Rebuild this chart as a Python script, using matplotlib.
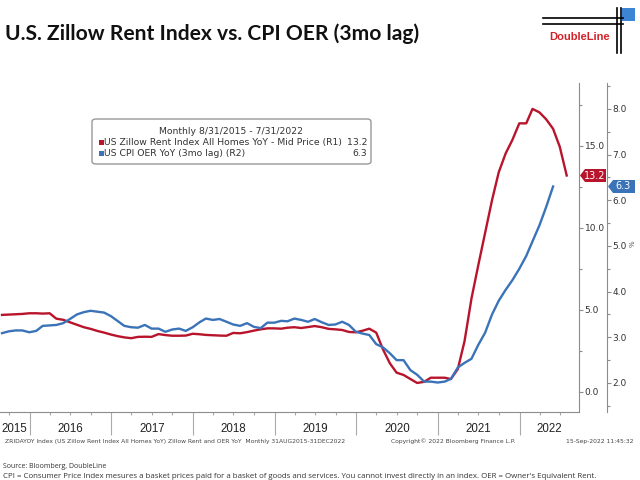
import matplotlib
matplotlib.use('Agg')
import matplotlib.pyplot as plt
import matplotlib.dates as mdates
import matplotlib.ticker as mticker
from matplotlib.patches import FancyBboxPatch, Polygon, Rectangle
from matplotlib.lines import Line2D
import pandas as pd

# Zillow rent index YoY (R1), monthly from 8/31/2015
zillow_yoy = [4.70, 4.72, 4.74, 4.76, 4.80, 4.80, 4.78, 4.80,
              4.47, 4.40, 4.25, 4.10, 3.95, 3.85, 3.72, 3.62,
              3.50, 3.40, 3.33, 3.28, 3.36, 3.37, 3.36, 3.53,
              3.47, 3.43, 3.43, 3.44, 3.55, 3.52, 3.48, 3.46,
              3.44, 3.43, 3.60, 3.58, 3.65, 3.74, 3.82, 3.88,
              3.88, 3.86, 3.92, 3.95, 3.90, 3.96, 4.02, 3.95,
              3.85, 3.82, 3.78, 3.66, 3.64, 3.74, 3.86, 3.62,
              2.60, 1.75, 1.18, 1.04, 0.79, 0.55, 0.62, 0.87,
              0.87, 0.87, 0.79, 1.40, 3.10, 5.70, 7.70, 9.70,
              11.70, 13.40, 14.55, 15.37, 16.38, 16.38, 17.26, 17.05,
              16.63, 16.05, 14.95, 13.2]
# CPI OER YoY with 3mo lag (R2)
oer_yoy = [3.09, 3.13, 3.15, 3.15, 3.11, 3.14, 3.25, 3.26,
           3.27, 3.31, 3.40, 3.50, 3.55, 3.58, 3.56, 3.54,
           3.46, 3.35, 3.25, 3.22, 3.21, 3.27, 3.19, 3.19,
           3.12, 3.17, 3.19, 3.14, 3.22, 3.33, 3.41, 3.38,
           3.40, 3.34, 3.28, 3.25, 3.31, 3.23, 3.20, 3.32,
           3.32, 3.36, 3.35, 3.41, 3.38, 3.34, 3.40, 3.33,
           3.27, 3.28, 3.34, 3.27, 3.12, 3.08, 3.05, 2.85,
           2.78, 2.65, 2.50, 2.50, 2.28, 2.18, 2.03, 2.03,
           2.01, 2.03, 2.09, 2.34, 2.44, 2.53, 2.83, 3.10,
           3.50, 3.80, 4.04, 4.25, 4.50, 4.78, 5.10, 5.45,
           5.85, 6.30]
dates = pd.date_range('2015-08-31', periods=len(zillow_yoy), freq=pd.offsets.MonthEnd())
oer_dates = dates[:len(oer_yoy)]
years = list(range(2015, 2023))

RED = '#B8142B'
BLUE = '#3B73B9'
GRAY = '#8C8C8C'
W, H = 640, 480


def fx(px):
    return px / W


def fy(py):
    return 1 - py / H


fig = plt.figure(figsize=(6.4, 4.8), dpi=100)
fig.patch.set_facecolor('white')

ax1 = fig.add_axes([0, fy(412), fx(579), (412 - 83) / H])
ax2 = ax1.twinx()

ax1.plot(dates, zillow_yoy, color=RED, lw=1.7, zorder=3)
ax2.plot(oer_dates, oer_yoy, color=BLUE, lw=1.7)

xmin, xmax = pd.Timestamp('2015-08-22'), pd.Timestamp('2022-09-24')
ax1.set_xlim(xmin, xmax)
ax1.set_ylim(-1.22, 18.84)
ax2.set_ylim(1.365, 8.565)

for ax in (ax1, ax2):
    ax.patch.set_visible(False)
    ax.spines['left'].set_visible(False)
    ax.spines['top'].set_visible(False)
ax2.spines['bottom'].set_visible(False)
ax1.spines['bottom'].set_color(GRAY)
ax1.spines['right'].set_color(GRAY)
ax2.spines['right'].set_color(GRAY)
ax2.spines['right'].set_position(('axes', 607 / 579))

ax1.yaxis.tick_right()
ax1.yaxis.set_major_locator(mticker.MultipleLocator(5))
ax1.yaxis.set_minor_locator(mticker.MultipleLocator(2.5))
ax1.yaxis.set_major_formatter(mticker.FormatStrFormatter('%.1f'))
ax2.yaxis.set_major_locator(mticker.MultipleLocator(1))
ax2.yaxis.set_minor_locator(mticker.MultipleLocator(0.5))
ax2.yaxis.set_major_formatter(mticker.FormatStrFormatter('%.1f'))
for ax in (ax1, ax2):
    ax.tick_params(axis='y', which='major', length=3, width=0.8, color=GRAY,
                   labelsize=6.5, labelcolor='#333333', pad=1)
    ax.tick_params(axis='y', which='minor', length=2, width=0.8, color=GRAY)

ax1.xaxis.set_major_locator(mdates.YearLocator())
ax1.xaxis.set_minor_locator(mdates.MonthLocator(bymonth=[4, 7, 10]))
ax1.xaxis.set_major_formatter(mticker.NullFormatter())
ax1.tick_params(axis='x', which='major', length=16.5, width=0.8, color='#AAAAAA')
ax1.tick_params(axis='x', which='minor', length=2, width=0.8, color='#AAAAAA')

for yr in years:
    a = max(pd.Timestamp(f'{yr}-01-01'), xmin)
    b = min(pd.Timestamp(f'{yr + 1}-01-01'), xmax)
    mid = a + (b - a) / 2
    ax1.text(mid, -0.052, str(yr), transform=ax1.get_xaxis_transform(),
             ha='center', va='center', fontsize=8.3, family='Liberation Sans',
             color='#222222')

# last-value tags on the axes
fig.canvas.draw()
y_red = ax1.transData.transform((mdates.date2num(dates[-1]), zillow_yoy[-1]))[1]
y_blue = ax2.transData.transform((mdates.date2num(oer_dates[-1]), oer_yoy[-1]))[1]
for x0, x1, yc, col, val in [(580, 606, y_red, RED, zillow_yoy[-1]),
                             (608, 635, y_blue, BLUE, oer_yoy[-1])]:
    pts = [(x0, yc), (x0 + 5, yc + 6.5), (x1, yc + 6.5), (x1, yc - 6.5), (x0 + 5, yc - 6.5)]
    fig.patches.append(Polygon([(px / W, py / H) for px, py in pts], closed=True,
                               transform=fig.transFigure, fc=col, ec='none'))
    fig.text((x0 + 3 + x1) / 2 / W, yc / H, f'{val:.1f}', ha='center', va='center',
             fontsize=7, color='white')

fig.text(fx(633), fy(244), '%', rotation=90, fontsize=5, color='#555555',
         ha='center', va='center')

# legend box
fig.patches.append(FancyBboxPatch((fx(92), fy(164)), fx(371) - fx(92), (164 - 119) / H,
                                  boxstyle='round,pad=0,rounding_size=0.006',
                                  transform=fig.transFigure, fc='white', ec='#999999', lw=1))
fig.text(fx(231), fy(131.5), 'Monthly 8/31/2015 - 7/31/2022', ha='center', va='center',
         fontsize=6.7, color='#333333')
rows = [('US Zillow Rent Index All Homes YoY - Mid Price (R1)', zillow_yoy[-1], RED, 142.5),
        ('US CPI OER YoY (3mo lag) (R2)', oer_yoy[-1], BLUE, 153)]
for label, val, col, ypx in rows:
    fig.patches.append(Rectangle((fx(98.5), fy(ypx + 2.5)), 5 / W, 5 / H,
                                 transform=fig.transFigure, fc=col, ec='none'))
    fig.text(fx(104), fy(ypx), label, ha='left', va='center', fontsize=6.7, color='#333333')
    fig.text(fx(367), fy(ypx), f'{val:.1f}', ha='right', va='center', fontsize=6.7,
             color='#333333')

# title
fig.text(fx(5), fy(34), 'U.S. Zillow Rent Index vs. CPI OER (3mo lag)', fontsize=15.1,
         fontweight='bold', family='Lato', color='#111111', va='center', ha='left')

# DoubleLine logo
for ypx in (18, 24):
    fig.lines.append(Line2D([fx(543), fx(623)], [fy(ypx), fy(ypx)], color='black', lw=1.2,
                            transform=fig.transFigure))
for xpx in (617, 621):
    fig.lines.append(Line2D([fx(xpx), fx(xpx)], [fy(8), fy(53)], color='black', lw=1.2,
                            transform=fig.transFigure))
fig.patches.append(Rectangle((fx(622), fy(21)), 13 / W, 13 / H, transform=fig.transFigure,
                             fc='#3C84D4', ec='none'))
fig.text(fx(580), fy(37), 'DoubleLine', ha='center', va='center', fontsize=8,
         fontweight='bold', family='Liberation Sans', color='#D2232A')

# footers
fig.text(fx(5), fy(441), 'ZRIDAYOY Index (US Zillow Rent Index All Homes YoY) Zillow Rent and OER YoY  '
         'Monthly 31AUG2015-31DEC2022', fontsize=4.35, color='#444444', va='center')
fig.text(fx(391), fy(441), 'Copyright\u00a9 2022 Bloomberg Finance L.P.', fontsize=4.35,
         color='#444444', va='center')
fig.text(fx(633), fy(441), '15-Sep-2022 11:45:32', fontsize=4.35, color='#444444',
         va='center', ha='right')
fig.text(fx(3), fy(466), 'Source: Bloomberg, DoubleLine', fontsize=5.0, family='Open Sans',
         color='#333333', va='center')
fig.text(fx(3), fy(476.5), 'CPI = Consumer Price Index mesures a basket prices paid for a basket of '
         'goods and services. You cannot invest directly in an index. OER = Owner\'s Equivalent Rent.',
         fontsize=5.7, family='Open Sans', color='#333333', va='center')

fig.savefig('out.png', dpi=100, facecolor='white')
